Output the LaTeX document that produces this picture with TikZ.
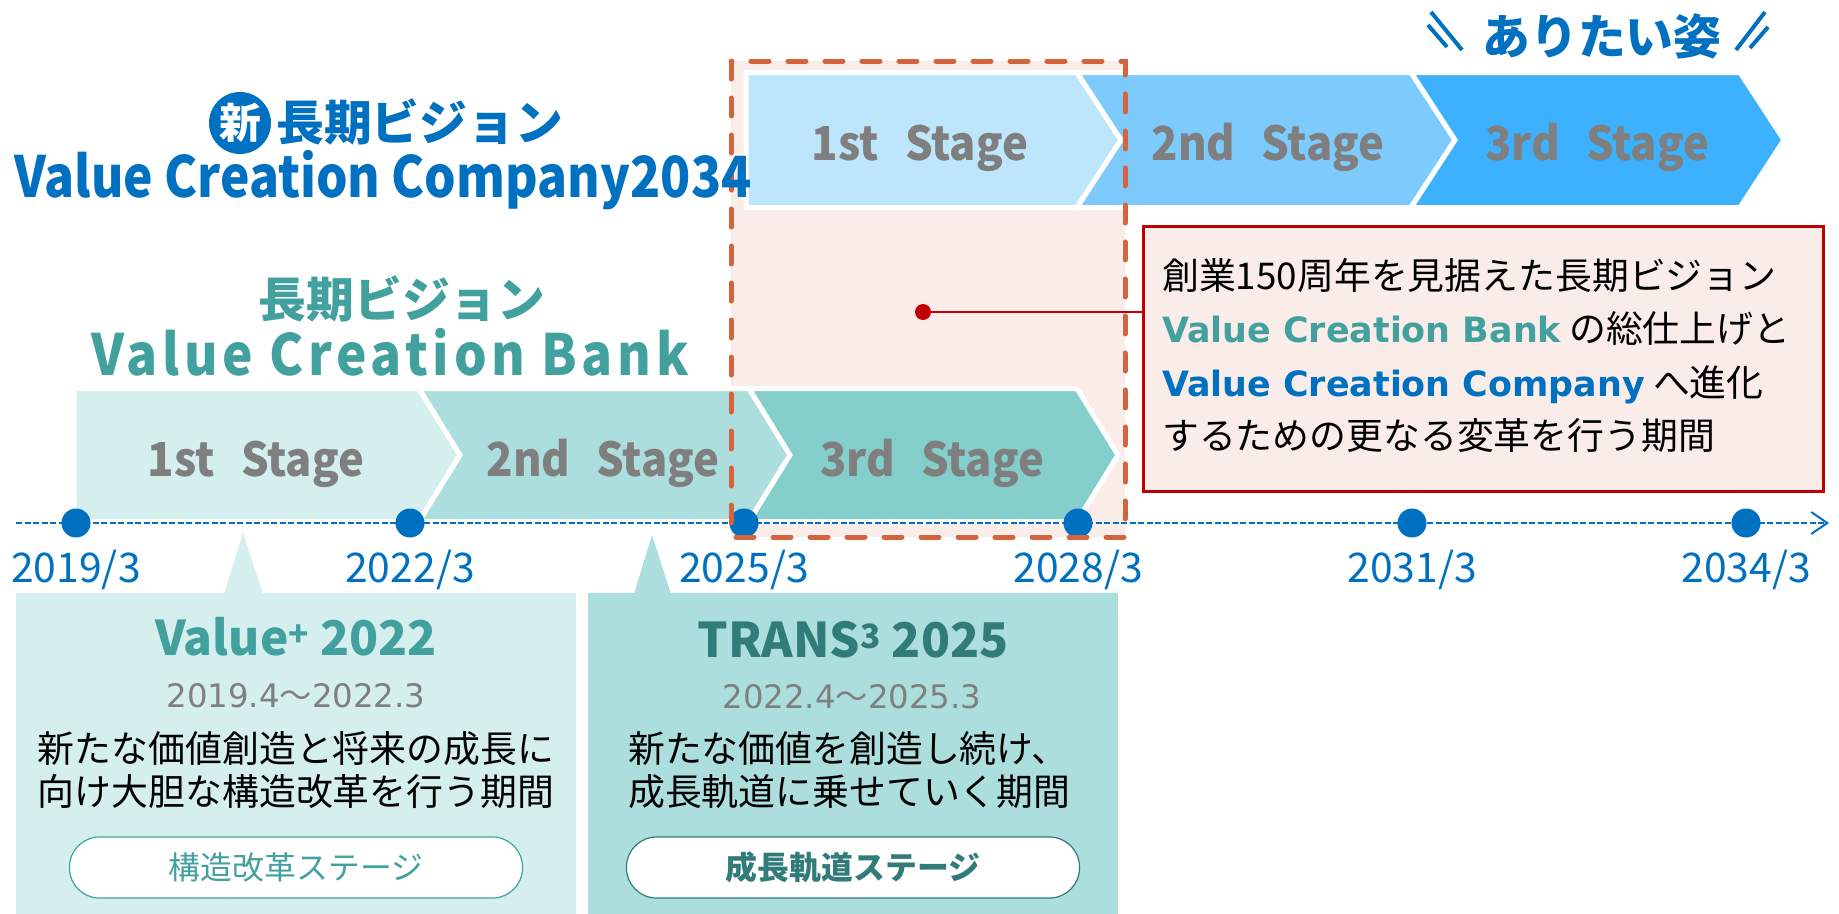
\documentclass[tikz,border=0pt]{standalone}
\usepackage{fontspec}
\usepackage{graphicx}
\setmainfont{Noto Sans CJK JP}
\newfontfamily\dvfont{DejaVu Sans}
\usepackage{tikz}
\usetikzlibrary{arrows.meta}
\definecolor{cblue}{HTML}{0070C0}
\definecolor{cteal}{HTML}{42A19E}
\definecolor{cdeep}{HTML}{317B79}
\definecolor{sgray}{HTML}{7F7F7F}
\definecolor{tl1}{HTML}{D5EFEE}
\definecolor{tl2}{HTML}{ADDEDE}
\definecolor{tl3}{HTML}{84CECC}
\definecolor{sky1}{HTML}{BDE6FD}
\definecolor{sky2}{HTML}{7DCBFC}
\definecolor{sky3}{HTML}{3DB1FE}
\definecolor{pinkbg}{HTML}{FAECE8}
\definecolor{dashred}{HTML}{D5643E}
\definecolor{calred}{HTML}{C00000}
\newcommand\cnd[2]{\scalebox{#1}[1]{#2}}
\tikzset{
  tline/.style={draw=cblue, line width=2bp, dash pattern=on 6bp off 2.5bp},
  ydot/.style={circle, fill=cblue, inner sep=0pt, minimum size=29bp},
  ylab/.style={text=cblue, font=\fontsize{41}{41}\selectfont, anchor=base, inner sep=0pt},
  chev/.style={draw=white, line width=5bp, line join=miter},
  stg/.style={text=sgray, font=\bfseries\fontsize{47}{47}\selectfont, anchor=base, inner sep=0pt},
  dashbox/.style={draw=dashred, line width=5bp, dash pattern=on 18bp off 19bp, line cap=round},
  callout/.style={draw=calred, fill=pinkbg, line width=2.5bp, inner sep=0pt},
  cline/.style={draw=calred, line width=2.5bp},
  rdot/.style={circle, fill=calred, inner sep=0pt, minimum size=16bp},
  pill/.style={fill=white, line width=1.2bp, rounded corners=30bp, minimum width=453bp,
    minimum height=61bp, inner sep=0pt, font=\fontsize{32}{32}\selectfont},
  btitle/.style={font=\bfseries\fontsize{48}{48}\selectfont, anchor=base, inner sep=0pt},
  dtxt/.style={text=sgray, font=\fontsize{32.5}{32.5}\selectfont, anchor=base, inner sep=0pt},
  jtxt/.style={font=\fontsize{37}{37}\selectfont, anchor=base, inner sep=0pt},
  ctxt/.style={jtxt, anchor=base west}
}
\begin{document}
\begin{tikzpicture}[x=1bp,y=-1bp]
  \useasboundingbox (0,0) rectangle (1839,914);
  \def\ytop{72.5}
  \def\ybot{207.5}
  \def\ymid{140}
  \def\ltop{388.5}
  \def\lbot{521.5}
  \def\lmid{455}

  \fill[pinkbg] (731,61) rectangle (1125,537);

  \draw[chev, fill=sky1] (746,\ytop) -- (1077,\ytop) -- (1121,\ymid) -- (1077,\ybot) -- (746,\ybot) -- cycle;
  \draw[chev, fill=sky2] (1077,\ytop) -- (1411,\ytop) -- (1455,\ymid) -- (1411,\ybot) -- (1077,\ybot) -- (1121,\ymid) -- cycle;
  \draw[chev, fill=sky3] (1411,\ytop) -- (1740,\ytop) -- (1784,\ymid) -- (1740,\ybot) -- (1411,\ybot) -- (1455,\ymid) -- cycle;
  \draw[chev, fill=tl1] (74,\ltop) -- (419,\ltop) -- (460,\lmid) -- (419,\lbot) -- (74,\lbot) -- cycle;
  \draw[chev, fill=tl2] (419,\ltop) -- (749,\ltop) -- (790,\lmid) -- (749,\lbot) -- (419,\lbot) -- (460,\lmid) -- cycle;
  \draw[chev, fill=tl3] (749,\ltop) -- (1077,\ltop) -- (1118,\lmid) -- (1077,\lbot) -- (749,\lbot) -- (790,\lmid) -- cycle;

  \node[stg] (s1) at (920,160) {\cnd{0.93}{1st\hspace{0.6em}Stage}};
  \node[stg] (s2) at (1268,160) {\cnd{0.93}{2nd\hspace{0.6em}Stage}};
  \node[stg] (s3) at (1597,160) {\cnd{0.93}{3rd\hspace{0.6em}Stage}};
  \node[stg] (b1) at (256,476) {\cnd{0.93}{1st\hspace{0.6em}Stage}};
  \node[stg] (b2) at (603,476) {\cnd{0.93}{2nd\hspace{0.6em}Stage}};
  \node[stg] (b3) at (932,476) {\cnd{0.93}{3rd\hspace{0.6em}Stage}};

  \coordinate (ts) at (16,523);
  \coordinate (te) at (1829,523);
  \draw[tline, -{Straight Barb[length=16bp,width=22bp]}] (ts) -- (te);
  \node[ydot] (d19) at (76,523) {};
  \node[ydot] (d22) at (410,523) {};
  \node[ydot] (d25) at (744,523) {};
  \node[ydot] (d28) at (1078,523) {};
  \node[ydot] (d31) at (1412,523) {};
  \node[ydot] (d34) at (1746,523) {};
  \node[ylab] (y19) at (76,582) {2019/3};
  \node[ylab] (y22) at (410,582) {2022/3};
  \node[ylab] (y25) at (744,582) {2025/3};
  \node[ylab] (y28) at (1078,582) {2028/3};
  \node[ylab] (y31) at (1412,582) {2031/3};
  \node[ylab] (y34) at (1746,582) {2034/3};

  \draw[dashbox] (731,61) rectangle (1125,537);

  \node[circle, fill=cblue, text=white, inner sep=0pt, minimum size=62bp,
    font=\bfseries\fontsize{42}{42}\selectfont] (shin) at (240,123) {新};
  \node[anchor=base west, inner sep=0pt, text=cblue, font=\bfseries\fontsize{48}{48}\selectfont] (nlv) at (276,140) {長期ビジョン};
  \node[anchor=base, inner sep=0pt, text=cblue, font=\bfseries\fontsize{57}{57}\selectfont] (vcc) at (383,197) {\cnd{0.875}{Value Creation Company2034}};
  \node[anchor=base, inner sep=0pt, text=cteal, font=\bfseries\fontsize{48}{48}\selectfont] (olv) at (402,317) {長期ビジョン};
  \node[anchor=base, inner sep=0pt, text=cteal, font=\bfseries\fontsize{57}{57}\selectfont\addfontfeature{LetterSpace=9}] (vcb) at (390,375) {\cnd{0.905}{Value Creation Bank}};

  \node[anchor=base, inner sep=0pt, text=cblue, font=\bfseries\fontsize{48}{48}\selectfont] (goal) at (1602,54) {ありたい姿};
  \draw[cblue, line width=4bp] (1428,25) -- (1447,47) (1431,12) -- (1462,50);
  \draw[cblue, line width=4bp] (1768,27) -- (1750,48) (1765,12) -- (1736,50);

  \node[callout, anchor=north west, minimum width=680bp, minimum height=265bp] (cbox) at (1142,225) {};
  \node[ctxt] (c1) at (1162,289) {創業150周年を見据えた長期ビジョン};
  \node[ctxt] (c2) at (1162,342.5) {\textcolor{cteal}{\dvfont\bfseries\fontsize{35}{35}\selectfont Value Creation Bank} の総仕上げと};
  \node[ctxt] (c3) at (1162,396) {\textcolor{cblue}{\dvfont\bfseries\fontsize{35}{35}\selectfont Value Creation Company} へ進化};
  \node[ctxt] (c4) at (1162,449.5) {するための更なる変革を行う期間};
  \node[rdot] (cdot) at (923,312) {};
  \draw[cline] (cdot) -- (cdot -| cbox.west);

  \node[fill=tl1, inner sep=0pt, anchor=north west, minimum width=560bp, minimum height=321bp] (vbox) at (16,593) {};
  \fill[tl1] (224,594) -- (243,533) -- (263,594) -- cycle;
  \node[btitle, text=cteal] (v1) at (296,655) {Value\textsuperscript{+} 2022};
  \node[dtxt] (v2) at (296,707) {{\dvfont 2019.4}～{\dvfont 2022.3}};
  \node[jtxt] (v3) at (296,762) {新たな価値創造と将来の成長に};
  \node[jtxt] (v4) at (296,805) {向け大胆な構造改革を行う期間};
  \node[pill, draw=cteal, text=cteal] (v5) at (296,867.5) {構造改革ステージ};

  \node[fill=tl2, inner sep=0pt, anchor=north west, minimum width=530bp, minimum height=321bp] (tbox) at (588,593) {};
  \fill[tl2] (634,594) -- (652,535) -- (671,594) -- cycle;
  \node[btitle, text=cdeep] (t1) at (853,657) {TRANS\textsuperscript{3} 2025};
  \node[dtxt] (t2) at (852,708) {{\dvfont 2022.4}～{\dvfont 2025.3}};
  \node[jtxt, anchor=base west] (t3) at (628,762) {新たな価値を創造し続け、};
  \node[jtxt, anchor=base west] (t4) at (628,805) {成長軌道に乗せていく期間};
  \node[pill, draw=cdeep, text=cdeep, font=\bfseries\fontsize{32}{32}\selectfont] (t5) at (853,867.5) {成長軌道ステージ};
\end{tikzpicture}
\end{document}
